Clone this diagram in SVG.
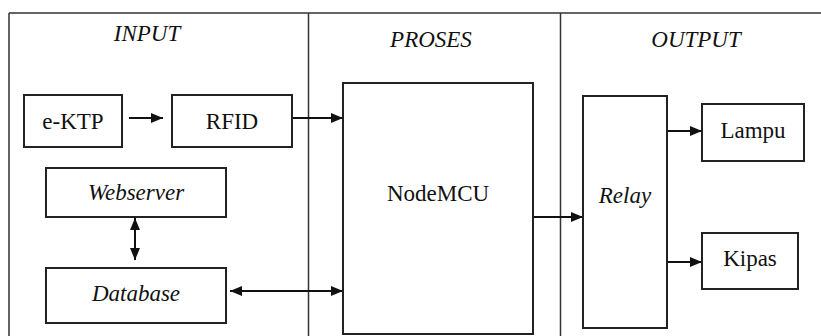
<svg xmlns="http://www.w3.org/2000/svg" width="821" height="336" viewBox="0 0 821 336">
<style>
.frame{stroke:#333;stroke-width:1.5;fill:none}
.box{fill:#fff;stroke:#222;stroke-width:2}
.lbl{font-family:'Liberation Serif',serif;font-size:23px;fill:#111;text-anchor:middle}
.it{font-style:italic}
.conn{stroke:#111;stroke-width:2;fill:none}
</style>
<defs>
<marker id="ah" viewBox="0 0 12 10" refX="12" refY="5" markerWidth="12" markerHeight="10" markerUnits="userSpaceOnUse" orient="auto-start-reverse">
<path d="M0,0 L12,5 L0,10 z" fill="#111"/>
</marker>
</defs>
<rect width="821" height="336" fill="#fff"/>
<g id="frame">
<path class="frame" d="M9,13 H821 M9,13 V336 M308.5,13 V336 M560.5,13 V336"/>
<text class="lbl it" x="147" y="41">INPUT</text>
<text class="lbl it" x="431" y="47">PROSES</text>
<text class="lbl it" x="696" y="47">OUTPUT</text>
</g>
<g id="connectors">
<line class="conn" x1="129" y1="118" x2="163" y2="118" marker-end="url(#ah)"/>
<line class="conn" x1="292" y1="118" x2="343" y2="118" marker-end="url(#ah)"/>
<line class="conn" x1="135" y1="218" x2="135" y2="260" marker-start="url(#ah)" marker-end="url(#ah)"/>
<line class="conn" x1="230" y1="291" x2="343" y2="291" marker-start="url(#ah)" marker-end="url(#ah)"/>
<line class="conn" x1="533" y1="217" x2="583" y2="217" marker-end="url(#ah)"/>
<line class="conn" x1="667" y1="131" x2="702" y2="131" marker-end="url(#ah)"/>
<line class="conn" x1="667" y1="262" x2="702" y2="262" marker-end="url(#ah)"/>
</g>
<g id="ektp">
<rect class="box" x="24" y="95" width="98" height="52"/>
<text class="lbl" x="73" y="129">e-KTP</text>
</g>
<g id="rfid">
<rect class="box" x="172" y="95" width="120" height="52"/>
<text class="lbl" x="232" y="129">RFID</text>
</g>
<g id="webserver">
<rect class="box" x="46" y="168" width="180" height="49"/>
<text class="lbl it" x="136" y="200">Webserver</text>
</g>
<g id="database">
<rect class="box" x="46" y="268" width="180" height="55"/>
<text class="lbl it" x="136" y="301">Database</text>
</g>
<g id="nodemcu">
<rect class="box" x="343" y="83" width="190" height="251"/>
<text class="lbl" x="438" y="201">NodeMCU</text>
</g>
<g id="relay">
<rect class="box" x="583" y="96" width="84" height="232"/>
<text class="lbl it" x="625" y="203">Relay</text>
</g>
<g id="lampu">
<rect class="box" x="702" y="104" width="102" height="57"/>
<text class="lbl" x="753" y="138">Lampu</text>
</g>
<g id="kipas">
<rect class="box" x="702" y="233" width="96" height="56"/>
<text class="lbl" x="750" y="266">Kipas</text>
</g>
</svg>
